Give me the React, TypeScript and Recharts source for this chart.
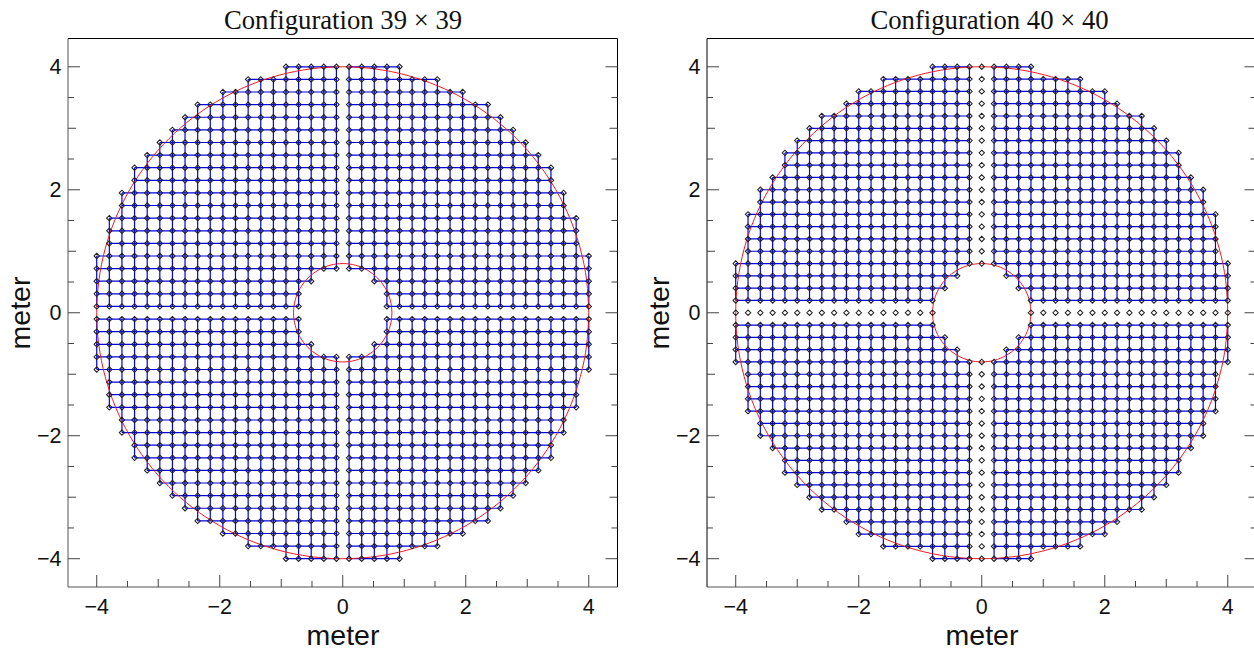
import React from 'react';
import { ComposedChart, Line, Scatter, XAxis, YAxis } from 'recharts';

// Grid coordinates along one positive half axis (metres)
const positions39 = [0.103, 0.308, 0.513, 0.718, 0.923, 1.128, 1.333, 1.538, 1.744, 1.949, 2.154, 2.359, 2.564, 2.769, 2.974, 3.179, 3.385, 3.59, 3.795, 4.0];
const positions40 = [0, 0.2, 0.4, 0.6, 0.8, 1.0, 1.2, 1.4, 1.6, 1.8, 2.0, 2.2, 2.4, 2.6, 2.8, 3.0, 3.2, 3.4, 3.6, 3.8, 4.0];
// For each row, the first and last occupied column index
const outerEdge39 = [19, 19, 19, 19, 19, 18, 18, 18, 17, 17, 16, 16, 15, 14, 13, 12, 11, 9, 7, 4];
const innerEdge39 = [3, 3, 2, 0, 0, 0, 0, 0, 0, 0, 0, 0, 0, 0, 0, 0, 0, 0, 0, 0];
const outerEdge40 = [20, 20, 20, 20, 20, 19, 19, 19, 19, 18, 18, 17, 16, 16, 15, 14, 13, 11, 10, 8, 4];
const innerEdge40 = [4, 4, 3, 2, 0, 0, 0, 0, 0, 0, 0, 0, 0, 0, 0, 0, 0, 0, 0, 0, 0];
// Rows and columns of the 40 x 40 set start at index 1 for the connecting lines
const firstLinked39 = 0;
const firstLinked40 = 1;

const outerRadius = 4;
const innerRadius = 0.8;
const quarterCos = [1, 0.99144, 0.96593, 0.92388, 0.86603, 0.79335, 0.70711, 0.60876, 0.5, 0.38268, 0.25882, 0.13053, 0];
const quarterSin = [0, 0.13053, 0.25882, 0.38268, 0.5, 0.60876, 0.70711, 0.79335, 0.86603, 0.92388, 0.96593, 0.99144, 1];

const tickValues = [-4, -3.5, -3, -2.5, -2, -1.5, -1, -0.5, 0, 0.5, 1, 1.5, 2, 2.5, 3, 3.5, 4];
const labelledTicks = [-4, -2, 0, 2, 4];
const titles = ['Configuration 39 × 39', 'Configuration 40 × 40'];
const axisTitle = 'meter';

type P = { x: number; y: number | null };

function buildPoints(pos: number[], outer: number[], inner: number[]) {
  const seen = new Set<string>();
  const out: P[] = [];
  pos.forEach((py, j) => {
    for (let i = inner[j]; i <= outer[j]; i++) {
      [-1, 1].forEach((sx) =>
        [-1, 1].forEach((sy) => {
          const x = sx * pos[i];
          const y = sy * py;
          const k = `${x},${y}`;
          if (!seen.has(k)) {
            seen.add(k);
            out.push({ x, y });
          }
        }),
      );
    }
  });
  return out;
}

function buildLinks(pos: number[], outer: number[], inner: number[], first: number) {
  const out: P[] = [];
  [-1, 1].forEach((sx) =>
    [-1, 1].forEach((sy) => {
      for (let j = first; j < pos.length; j++) {
        const start = Math.max(inner[j], first);
        for (let i = start; i <= outer[j]; i++) out.push({ x: sx * pos[i], y: sy * pos[j] });
        out.push({ x: sx * pos[start], y: null });
        for (let i = start; i <= outer[j]; i++) out.push({ x: sy * pos[j], y: sx * pos[i] });
        out.push({ x: sy * pos[j], y: null });
      }
    }),
  );
  return out;
}

function buildCircle(r: number) {
  const out: P[] = [];
  const n = quarterCos.length;
  for (let i = 0; i < n; i++) out.push({ x: r * quarterCos[i], y: r * quarterSin[i] });
  for (let i = 1; i < n; i++) out.push({ x: -r * quarterSin[i], y: r * quarterCos[i] });
  for (let i = 1; i < n; i++) out.push({ x: -r * quarterCos[i], y: -r * quarterSin[i] });
  for (let i = 1; i < n; i++) out.push({ x: r * quarterSin[i], y: -r * quarterCos[i] });
  return out;
}

const tickLength = (v: number) => (Math.abs(v) % 2 === 0 ? 12 : Number.isInteger(v) ? 8 : 6);
const sans = '"Liberation Sans", Arial, sans-serif';
const serif = '"Liberation Serif", "Times New Roman", serif';
const tickColor = '#444';
const fmt = (v: number) => (v < 0 ? `\u2212${Math.abs(v)}` : `${v}`);

const bottomTick = ({ x, y, payload }: any) => (
  <g>
    <line x1={x} x2={x} y1={y} y2={y - tickLength(payload.value)} stroke={tickColor} strokeWidth={1} />
    {labelledTicks.includes(payload.value) && (
      <text x={x} y={y + 26.5} textAnchor="middle" fontFamily={sans} fontSize={21.5} fill="#111">
        {fmt(payload.value)}
      </text>
    )}
  </g>
);
const topTick = ({ x, y, payload }: any) => (
  <line x1={x} x2={x} y1={y} y2={y + tickLength(payload.value)} stroke={tickColor} strokeWidth={1} />
);
const leftTick = ({ x, y, payload }: any) => (
  <g>
    <line x1={x} x2={x + tickLength(payload.value)} y1={y} y2={y} stroke={tickColor} strokeWidth={1} />
    {labelledTicks.includes(payload.value) && (
      <text x={x - 6.5} y={y + 7} textAnchor="end" fontFamily={sans} fontSize={21.5} fill="#111">
        {fmt(payload.value)}
      </text>
    )}
  </g>
);
const rightTick = ({ x, y, payload }: any) => (
  <line x1={x} x2={x - tickLength(payload.value)} y1={y} y2={y} stroke={tickColor} strokeWidth={1} />
);

const Diamond = ({ cx, cy }: any) => (
  <path
    d={`M${cx - 2.7},${cy}L${cx},${cy - 2.7}L${cx + 2.7},${cy}L${cx},${cy + 2.7}Z`}
    fill="none"
    stroke="#222"
    strokeWidth={1.05}
  />
);

const xDomain: [number, number] = [-4.467, 4.467];
const yDomain: [number, number] = [-4.46, 4.46];

function Panel({ left, title, titleX, leftColor, points, links }: any) {
  return (
    <div style={{ position: 'absolute', left, top: 0, width: 640, height: 650 }}>
      <ComposedChart width={640} height={650} margin={{ left: 8, right: 12.5, top: 18.5, bottom: 13 }}>
        <XAxis xAxisId="b" dataKey="x" type="number" orientation="bottom" domain={xDomain} ticks={tickValues} interval={0} height={50} tickSize={0} tickMargin={0} tickLine={false} tick={bottomTick} axisLine={{ stroke: '#555', strokeWidth: 1 }} allowDataOverflow />
        <XAxis xAxisId="t" type="number" orientation="top" domain={xDomain} ticks={tickValues} interval={0} height={20} tickSize={0} tickMargin={0} tickLine={false} tick={topTick} axisLine={{ stroke: '#000', strokeWidth: 1 }} allowDataOverflow />
        <YAxis yAxisId="l" dataKey="y" type="number" orientation="left" domain={yDomain} ticks={tickValues} interval={0} width={60} tickSize={0} tickMargin={0} tickLine={false} tick={leftTick} axisLine={{ stroke: leftColor, strokeWidth: 1 }} allowDataOverflow />
        <YAxis yAxisId="r" type="number" orientation="right" domain={yDomain} ticks={tickValues} interval={0} width={10} tickSize={0} tickMargin={0} tickLine={false} tick={rightTick} axisLine={{ stroke: '#000', strokeWidth: 1 }} allowDataOverflow />
        <Line xAxisId="b" yAxisId="l" data={links} dataKey="y" type="linear" stroke="#0000ee" strokeWidth={1.2} dot={false} activeDot={false} connectNulls={false} isAnimationActive={false} />
        <Scatter xAxisId="b" yAxisId="l" data={points} dataKey="y" shape={Diamond} isAnimationActive={false} />
        <Line xAxisId="b" yAxisId="l" data={buildCircle(outerRadius)} dataKey="y" type="natural" stroke="#f01a22" strokeWidth={1} dot={false} activeDot={false} isAnimationActive={false} />
        <Line xAxisId="b" yAxisId="l" data={buildCircle(innerRadius)} dataKey="y" type="natural" stroke="#f01a22" strokeWidth={1} dot={false} activeDot={false} isAnimationActive={false} />
        <text x={titleX} y={29} textAnchor="middle" fontFamily={serif} fontSize={26.7} fill="#111">{title}</text>
        <text x={343} y={645} textAnchor="middle" fontFamily={sans} fontSize={28.5} fill="#111">{axisTitle}</text>
        <text transform="translate(30,313) rotate(-90)" textAnchor="middle" fontFamily={sans} fontSize={28.5} fill="#111">{axisTitle}</text>
      </ComposedChart>
    </div>
  );
}

export default function App() {
  return (
    <div style={{ position: 'fixed', left: 0, top: 0, width: 1254, height: 650, overflow: 'hidden', background: '#fff' }}>
      <Panel left={0} title={titles[0]} titleX={343} leftColor="#555" points={buildPoints(positions39, outerEdge39, innerEdge39)} links={buildLinks(positions39, outerEdge39, innerEdge39, firstLinked39)} />
      <Panel left={638.5} title={titles[1]} titleX={350.5} leftColor="#000" points={buildPoints(positions40, outerEdge40, innerEdge40)} links={buildLinks(positions40, outerEdge40, innerEdge40, firstLinked40)} />
    </div>
  );
}
